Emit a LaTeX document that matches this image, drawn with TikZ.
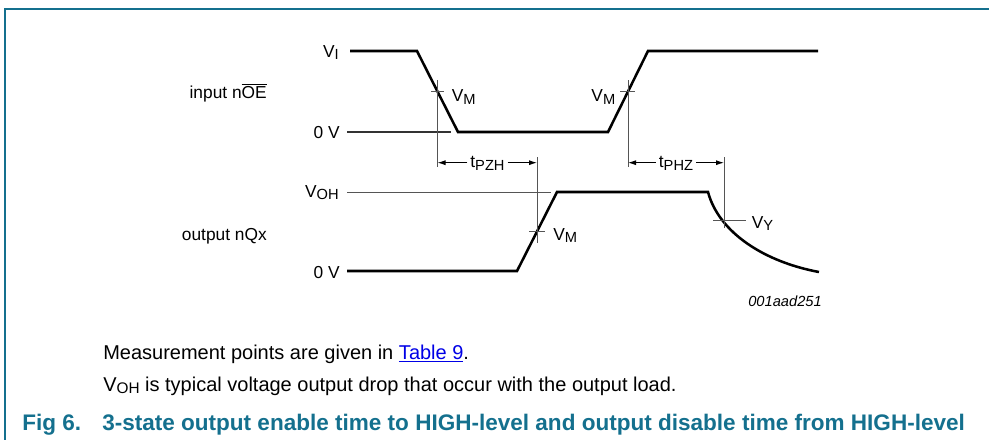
\documentclass[tikz,border=0pt]{standalone}
\usepackage{fontspec}
\setmainfont{Liberation Sans}
\usetikzlibrary{arrows.meta}
\definecolor{nxpteal}{RGB}{20,112,142}
\definecolor{linkblue}{RGB}{0,0,230}
\definecolor{guidegray}{RGB}{85,85,85}
\newcommand\lsub[1]{\raisebox{-2pt}{\fontsize{11}{11}\selectfont #1}}
\newcommand\bsub[1]{\raisebox{-1.6pt}{\fontsize{11.5}{11.5}\selectfont #1}}
\tikzset{
  wave/.style={line width=1.9pt, line join=miter},
  guide/.style={line width=0.75pt, draw=guidegray},
  refline/.style={line width=0.8pt, draw=black!80},
  dimarrow/.style={line width=0.75pt, draw=black, -{Latex[length=6pt,width=3.8pt]}},
  lbl/.style={inner sep=0pt, font=\fontsize{13}{13}\selectfont},
  dimlbl/.style={inner ysep=0pt, inner xsep=2pt, font=\fontsize{13}{13}\selectfont},
  body/.style={inner sep=0pt, font=\fontsize{15}{15}\selectfont},
  capt/.style={inner sep=0pt, text=nxpteal, font=\fontsize{16.9}{16.9}\selectfont\bfseries},
  frame/.style={line width=1.1pt, draw=nxpteal},
  codelbl/.style={inner sep=0pt, font=\fontsize{11}{11}\selectfont\itshape}
}
\begin{document}
\begin{tikzpicture}[x=0.75pt,y=-0.75pt]
\useasboundingbox (0,0) rectangle (989,440);
% frame
\draw[frame] (989,9) -- (5,9) -- (5,440);

% waveform key points
\coordinate (iA) at (350,51);
\coordinate (iB) at (417,51);
\coordinate (iC) at (458,132);
\coordinate (iD) at (608,132);
\coordinate (iE) at (648,51);
\coordinate (iF) at (818,51);
\coordinate (oA) at (347,271);
\coordinate (oB) at (517,271);
\coordinate (oC) at (557,192);
\coordinate (oD) at (708,192);
\coordinate (oE) at (819,272);

% input waveform
\draw[wave] (iA) -- (iB) -- (iC) -- (iD) -- (iE) -- (iF);
% output waveform
\draw[wave] (oA) -- (oB) -- (oC) -- (oD) .. controls (719,233) and (765,262) .. (oE);

% reference lines
\coordinate (zr0) at (347,132);
\coordinate (zr1) at (451,132);
\draw[refline] (zr0) -- (zr1);
\coordinate (vh0) at (347,192);
\coordinate (vh1) at (551,192);
\draw[guide] (vh0) -- (vh1);

% guide verticals
\coordinate (g1t) at (437.5,80);
\coordinate (g1b) at (437.5,167);
\coordinate (g2t) at (628,80);
\coordinate (g2b) at (628,167);
\coordinate (g3t) at (537,157);
\coordinate (g3b) at (537,243);
\coordinate (g4t) at (724,157);
\coordinate (g4b) at (724,228);
\draw[guide] (g1t) -- (g1b);
\draw[guide] (g2t) -- (g2b);
\draw[guide] (g3t) -- (g3b);
\draw[guide] (g4t) -- (g4b);

% ticks
\coordinate (t1a) at (431,91.5);
\coordinate (t1b) at (444,91.5);
\coordinate (t2a) at (620,91.5);
\coordinate (t2b) at (635,91.5);
\coordinate (t3a) at (529,231.5);
\coordinate (t3b) at (545,231.5);
\coordinate (t4a) at (713,220);
\coordinate (t4b) at (746,220);
\draw[guide] (t1a) -- (t1b);
\draw[guide] (t2a) -- (t2b);
\draw[guide] (t3a) -- (t3b);
\draw[guide] (t4a) -- (t4b);

% left labels
\node[lbl, anchor=base east] (lvi) at (339,57) {V\lsub{I}};
\node[lbl, anchor=base east] (linp) at (267,98.3) {input n$\overline{\hbox{OE}}$};
\node[lbl, anchor=base east] (l0a) at (340,138) {0 V};
\node[lbl, anchor=base east] (lvoh) at (339,197) {V\lsub{OH}};
\node[lbl, anchor=base east] (lout) at (267,240) {output nQx};
\node[lbl, anchor=base east] (l0b) at (340,278) {0 V};

% VM / VY labels
\node[lbl, anchor=base west] (vm1) at (451.5,101.7) {V\lsub{M}};
\node[lbl, anchor=base east] (vm2) at (615.5,101.7) {V\lsub{M}};
\node[lbl, anchor=base west] (vm3) at (553,240) {V\lsub{M}};
\node[lbl, anchor=base west] (vy) at (751.5,228) {V\lsub{Y}};

% dimension labels and arrows
\node[dimlbl] (tpzh) at (487.5,163.5) {t\lsub{PZH}};
\node[dimlbl] (tphz) at (676,163.5) {t\lsub{PHZ}};
\coordinate (d1l) at (437.5,162.7);
\coordinate (d1r) at (537,162.7);
\coordinate (d2l) at (628,162.7);
\coordinate (d2r) at (724,162.7);
\draw[dimarrow] (tpzh.west |- d1l) -- (d1l);
\draw[dimarrow] (tpzh.east |- d1r) -- (d1r);
\draw[dimarrow] (tphz.west |- d2l) -- (d2l);
\draw[dimarrow] (tphz.east |- d2r) -- (d2r);

% code
\node[codelbl, anchor=base east] (code) at (822,306.7) {001aad251};

% notes
\node[body, anchor=base west] (note1) at (103,359) {Measurement points are given in \textcolor{linkblue}{\underline{Table 9}}.};
\node[body, anchor=base west] (note2) at (103,391.7) {V\bsub{OH} is typical voltage output drop that occur with the output load.};

% caption
\node[capt, anchor=base west] (fignum) at (22,430) {Fig 6.};
\node[capt, anchor=base west] (figtxt) at (102,430) {3-state output enable time to HIGH-level and output disable time from HIGH-level};
\end{tikzpicture}
\end{document}
